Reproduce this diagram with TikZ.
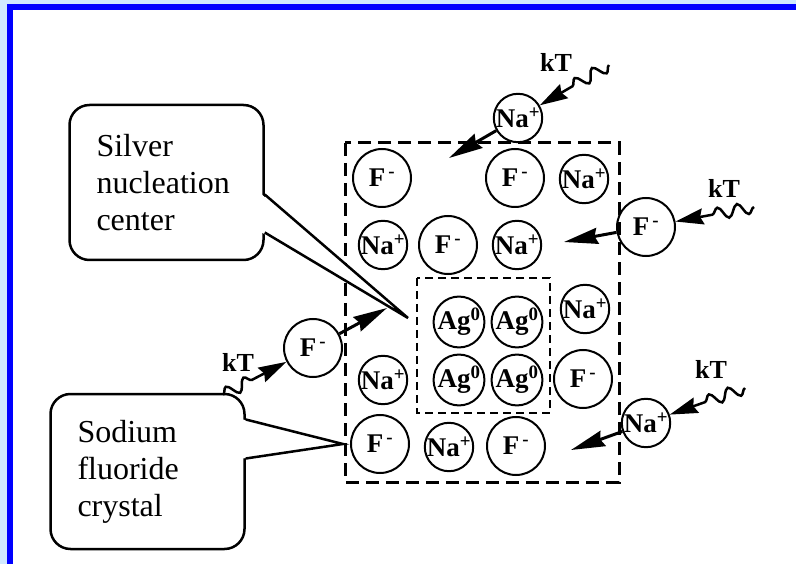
\documentclass[tikz,border=0pt]{standalone}
\usepackage{fontspec}
\setmainfont{Liberation Serif}
\usetikzlibrary{arrows.meta, calc, decorations.pathmorphing}
\definecolor{FrameBlue}{RGB}{0, 0, 255}
\definecolor{PaleBlue}{RGB}{208, 232, 255}

\begin{document}
\begin{tikzpicture}[
    x=1pt, y=-1pt,
    ion/.style={draw, circle, line width=2pt, inner sep=0pt,
                font=\fontsize{27}{27}\selectfont\bfseries},
    fion/.style={ion, minimum size=58pt},
    naion/.style={ion, minimum size=48pt},
    agion/.style={ion, minimum size=50pt},
    callbox/.style={draw, line width=2.5pt, rounded corners=20pt, fill=white,
                minimum width=194pt, minimum height=155pt, text width=140pt,
                align=left, font=\fontsize{32}{37}\selectfont},
    kt/.style={font=\fontsize{26}{26}\selectfont\bfseries},
    heat/.style={line width=2.5pt, decorate,
                decoration={snake, segment length=20pt, amplitude=6pt, post length=32pt},
                -{Stealth[length=28pt, width=16pt, inset=3pt]}},
    push/.style={line width=3pt, -{Stealth[length=34pt, width=16pt, inset=3pt]}},
    crystal/.style={line width=3pt, dash pattern=on 13pt off 7pt},
    nucleus/.style={line width=2.5pt, dash pattern=on 8pt off 5pt}
]
% slide frame
\fill[PaleBlue] (0,0) rectangle (796,564);
\fill[white] (13,10) rectangle (796,564);
\fill[FrameBlue] (7,4) rectangle (796,10);
\fill[FrameBlue] (7,4) rectangle (13,564);
\useasboundingbox (0,0) rectangle (796,564);

% crystal and nucleation center
\draw[crystal] (345,143) rectangle (619,482);
\draw[nucleus] (417,278) rectangle (550,413);

% lattice ions
\node[fion] (f1) at (382,178) {F\textsuperscript{\,-}};
\node[fion] (f2) at (515,178) {F\textsuperscript{\,-}};
\node[naion] (na1) at (584,179) {Na\textsuperscript{+}};
\node[naion] (na2) at (383,245) {Na\textsuperscript{+}};
\node[fion] (f3) at (448,245) {F\textsuperscript{\,-}};
\node[naion] (na3) at (517,245) {Na\textsuperscript{+}};
\node[agion] (ag1) at (459,322) {Ag\textsuperscript{0}};
\node[agion] (ag2) at (517,322) {Ag\textsuperscript{0}};
\node[agion] (ag3) at (459,380) {Ag\textsuperscript{0}};
\node[agion] (ag4) at (517,380) {Ag\textsuperscript{0}};
\node[naion] (na4) at (585,309) {Na\textsuperscript{+}};
\node[fion] (f4) at (583,379) {F\textsuperscript{\,-}};
\node[naion] (na5) at (383,380) {Na\textsuperscript{+}};
\node[fion] (f5) at (380,444) {F\textsuperscript{\,-}};
\node[naion] (na6) at (449,447) {Na\textsuperscript{+}};
\node[fion] (f6) at (516,446) {F\textsuperscript{\,-}};

% incoming ions
\node[naion] (nain1) at (518,118) {Na\textsuperscript{+}};
\node[fion] (fin1) at (646,227) {F\textsuperscript{\,-}};
\node[naion] (nain2) at (646,423) {Na\textsuperscript{+}};
\node[fion] (fin2) at (313,348) {F\textsuperscript{\,-}};

% callouts
\node[callbox] (silver) at (166.5,182.5) {Silver\\nucleation\\center};
\node[callbox] (sodium) at (147.5,471.5) {Sodium\\fluoride\\crystal};
\coordinate (agtip) at (408,318);
\coordinate (crtip) at (343,444);
\fill[white] ($(silver.east)+(-3,12)$) -- (agtip) -- ($(silver.east)+(-3,50)$) -- cycle;
\draw[line width=2.5pt] ($(silver.east)+(0,12)$) -- (agtip) -- ($(silver.east)+(0,50)$);
\fill[white] ($(sodium.east)+(-3,-52)$) -- (crtip) -- ($(sodium.east)+(-3,-13)$) -- cycle;
\draw[line width=2.5pt] ($(sodium.east)+(0,-52)$) -- (crtip) -- ($(sodium.east)+(0,-13)$);

% thermal kicks
\coordinate (w1) at (609,65);
\coordinate (w2) at (754,207);
\coordinate (w3) at (745,388);
\coordinate (w4) at (223,395);
\coordinate (p1) at (449,158);
\coordinate (p2) at (564,242);
\coordinate (p3) at (571,450);
\coordinate (p4) at (387,308);
\node[kt] (kt1) at (556,62) {kT};
\node[kt] (kt2) at (724,188) {kT};
\node[kt] (kt3) at (711,369) {kT};
\node[kt] (kt4) at (238,362) {kT};

\draw[heat] (w1) -- (nain1);
\draw[heat] (w2) -- (fin1);
\draw[heat] (w3) -- (nain2);
\draw[heat] (w4) -- (fin2);
\draw[push] (nain1) -- (p1);
\draw[push] (fin1) -- (p2);
\draw[push] (nain2) -- (p3);
\draw[push] (fin2) -- (p4);
\end{tikzpicture}
\end{document}
